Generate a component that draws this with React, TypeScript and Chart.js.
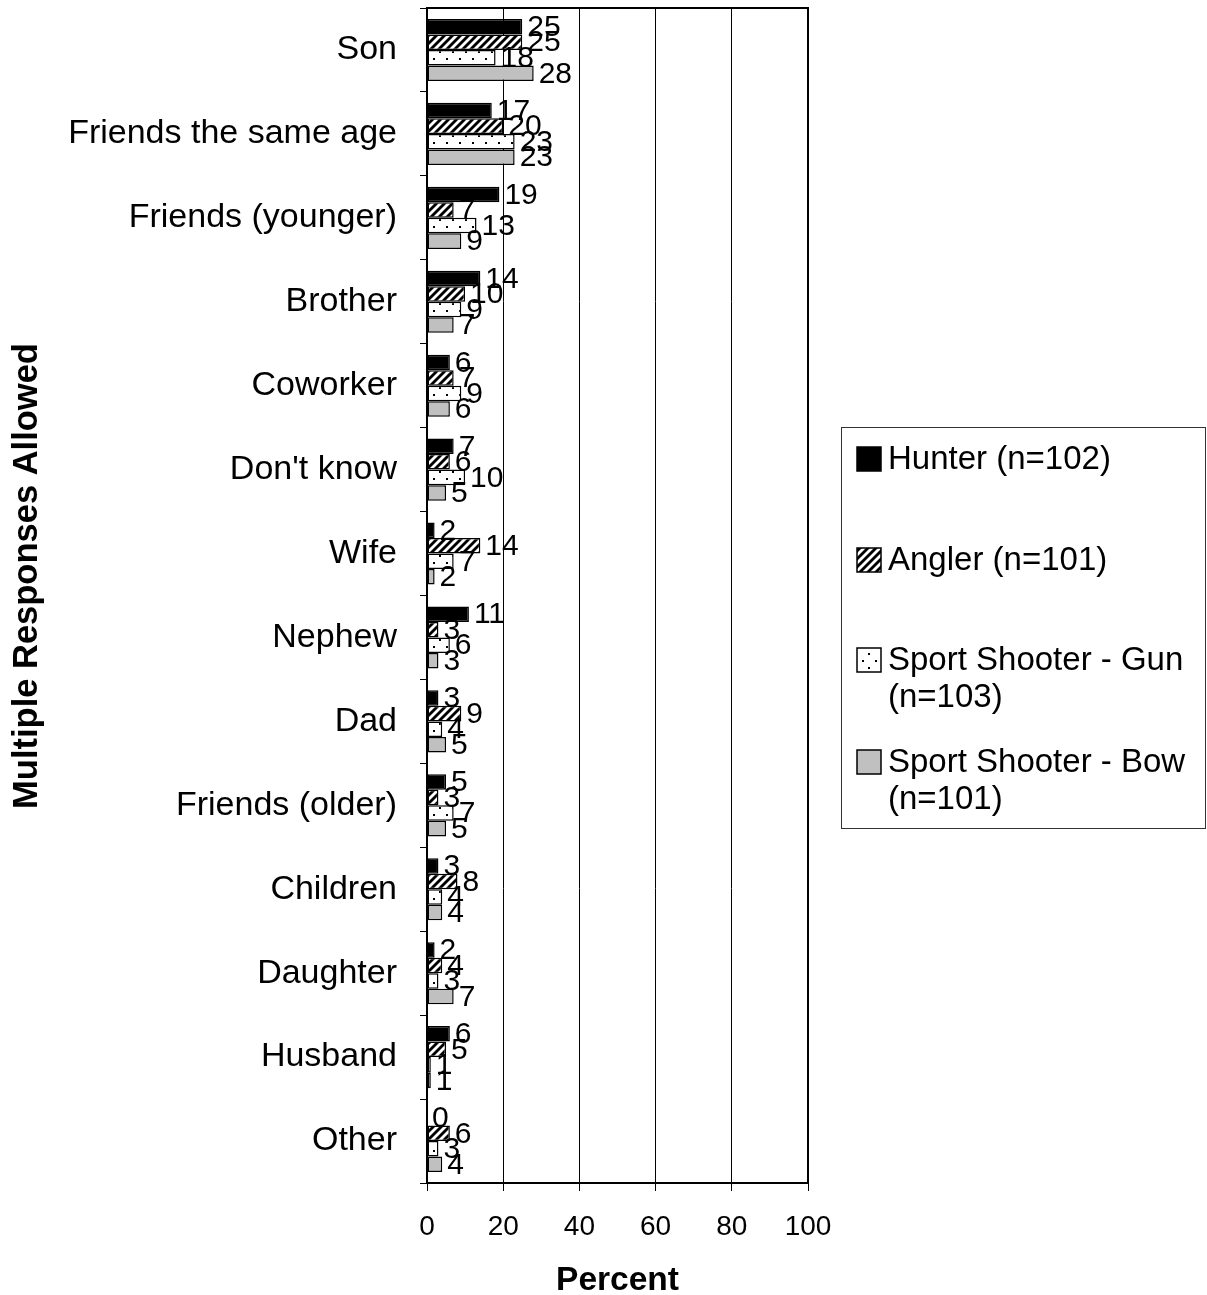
import React, { useEffect, useRef } from "react";
import { Chart, registerables } from "chart.js";

Chart.register(...registerables);

const categories = [
  "Son",
  "Friends the same age",
  "Friends (younger)",
  "Brother",
  "Coworker",
  "Don't know",
  "Wife",
  "Nephew",
  "Dad",
  "Friends (older)",
  "Children",
  "Daughter",
  "Husband",
  "Other",
];
const hunter = [25, 17, 19, 14, 6, 7, 2, 11, 3, 5, 3, 2, 6, 0];
const angler = [25, 20, 7, 10, 7, 6, 14, 3, 9, 3, 8, 4, 5, 6];
const gunShooter = [18, 23, 13, 9, 9, 10, 7, 6, 4, 7, 4, 3, 1, 3];
const bowShooter = [28, 23, 9, 7, 6, 5, 2, 3, 5, 5, 4, 7, 1, 4];
const seriesNames = [
  ["Hunter (n=102)"],
  ["Angler (n=101)"],
  ["Sport Shooter - Gun", "(n=103)"],
  ["Sport Shooter - Bow", "(n=101)"],
];
const xTicks = [0, 20, 40, 60, 80, 100];

const FONT = "'Liberation Sans', Arial, Helvetica, sans-serif";

function makeStripes(): CanvasPattern | string {
  const c = document.createElement("canvas");
  c.width = 8;
  c.height = 8;
  const g = c.getContext("2d");
  if (!g) return "#000";
  g.fillStyle = "#fff";
  g.fillRect(0, 0, 8, 8);
  g.strokeStyle = "#000";
  g.lineWidth = 2.8;
  for (const o of [-8, 0, 8]) {
    g.beginPath();
    g.moveTo(o - 1, 9);
    g.lineTo(o + 9, -1);
    g.stroke();
  }
  return g.createPattern(c, "repeat") || "#000";
}

function makeDots(): CanvasPattern | string {
  const c = document.createElement("canvas");
  c.width = 13;
  c.height = 14;
  const g = c.getContext("2d");
  if (!g) return "#fff";
  g.fillStyle = "#fff";
  g.fillRect(0, 0, 13, 14);
  g.fillStyle = "#000";
  g.fillRect(4, 2, 2, 2);
  g.fillRect(10, 9, 2, 2);
  return g.createPattern(c, "repeat") || "#fff";
}

export default function App() {
  const ref = useRef<HTMLCanvasElement | null>(null);

  useEffect(() => {
    if (!ref.current) return;
    const stripes = makeStripes();
    const dots = makeDots();
    const fills = ["#000000", stripes, dots, "#c0c0c0"];
    const values = [hunter, angler, gunShooter, bowShooter];

    const overlay = {
      id: "overlay",
      afterDatasetsDraw(chart: any) {
        const ctx = chart.ctx;
        ctx.save();
        ctx.fillStyle = "#000";
        ctx.font = `30px ${FONT}`;
        ctx.textAlign = "left";
        ctx.textBaseline = "middle";
        chart.data.datasets.forEach((ds: any, di: number) => {
          const meta = chart.getDatasetMeta(di);
          meta.data.forEach((el: any, i: number) => {
            ctx.fillText(String(ds.data[i]), el.x + 5, el.y + 1);
          });
        });
        ctx.restore();
      },
      afterDraw(chart: any) {
        const ctx = chart.ctx;
        const a = chart.chartArea;
        ctx.save();
        // plot frame
        ctx.strokeStyle = "#000";
        ctx.lineWidth = 2;
        ctx.strokeRect(a.left, a.top, a.right - a.left, a.bottom - a.top);
        // axis titles
        ctx.fillStyle = "#000";
        ctx.font = `bold 33.5px ${FONT}`;
        ctx.textAlign = "center";
        ctx.textBaseline = "alphabetic";
        ctx.fillText("Percent", (a.left + a.right) / 2, 1290);
        ctx.save();
        ctx.font = `bold 34.5px ${FONT}`;
        ctx.translate(37, 576);
        ctx.rotate(-Math.PI / 2);
        ctx.fillText("Multiple Responses Allowed", 0, 0);
        ctx.restore();
        // legend
        ctx.strokeStyle = "#333";
        ctx.lineWidth = 1;
        ctx.strokeRect(841.5, 427.5, 364, 401);
        const rows = [459, 560, 660, 762];
        ctx.font = `33px ${FONT}`;
        ctx.textAlign = "left";
        ctx.textBaseline = "middle";
        seriesNames.forEach((lines, k) => {
          const cy = rows[k];
          ctx.fillStyle = fills[k] as any;
          ctx.fillRect(857, cy - 12, 24, 24);
          ctx.strokeStyle = "#000";
          ctx.lineWidth = 1.5;
          ctx.strokeRect(857, cy - 12, 24, 24);
          ctx.fillStyle = "#000";
          lines.forEach((t, j) => {
            ctx.fillText(t, 888, cy + 1 + j * 37);
          });
        });
        ctx.restore();
      },
    };

    const chart = new Chart(ref.current, {
      type: "bar",
      data: {
        labels: categories,
        datasets: values.map((v, k) => ({
          label: seriesNames[k].join(" "),
          data: v,
          backgroundColor: fills[k] as any,
          borderColor: "#000",
          borderWidth: 1.5,
          borderSkipped: false,
          categoryPercentage: 0.74,
          barPercentage: 1,
        })),
      },
      options: {
        indexAxis: "y",
        responsive: false,
        animation: false,
        events: [],
        layout: { padding: { top: 8, right: 399, bottom: 0, left: 0 } },
        plugins: {
          legend: { display: false },
          tooltip: { enabled: false },
          title: { display: false },
        },
        scales: {
          x: {
            type: "linear",
            min: 0,
            max: 100,
            afterBuildTicks: (scale: any) => {
              scale.ticks = xTicks.map((v) => ({ value: v }));
            },
            afterFit: (scale: any) => {
              scale.height = 112;
              scale.paddingLeft = 0;
              scale.paddingRight = 0;
            },
            ticks: {
              color: "#000",
              font: { family: FONT, size: 28 },
              padding: 19,
              maxRotation: 0,
              autoSkip: false,
            },
            grid: {
              color: "#000",
              lineWidth: 1,
              tickLength: 8,
              drawTicks: true,
            },
            border: { display: true, color: "#000", width: 2 },
          },
          y: {
            type: "category",
            offset: true,
            afterFit: (scale: any) => {
              scale.width = 427;
              scale.paddingTop = 0;
              scale.paddingBottom = 0;
            },
            ticks: {
              color: "#000",
              font: { family: FONT, size: 34 },
              padding: 23,
              autoSkip: false,
            },
            grid: {
              offset: true,
              drawOnChartArea: false,
              color: "#000",
              lineWidth: 1,
              tickLength: 7,
            },
            border: { display: true, color: "#000", width: 2 },
          },
        },
      },
      plugins: [overlay],
    });
    return () => chart.destroy();
  }, []);

  return (
    <div style={{ position: "absolute", left: 0, top: 0, width: 1207, height: 1295, background: "#fff" }}>
      <canvas ref={ref} width={1207} height={1295} style={{ display: "block", width: 1207, height: 1295 }} />
    </div>
  );
}
